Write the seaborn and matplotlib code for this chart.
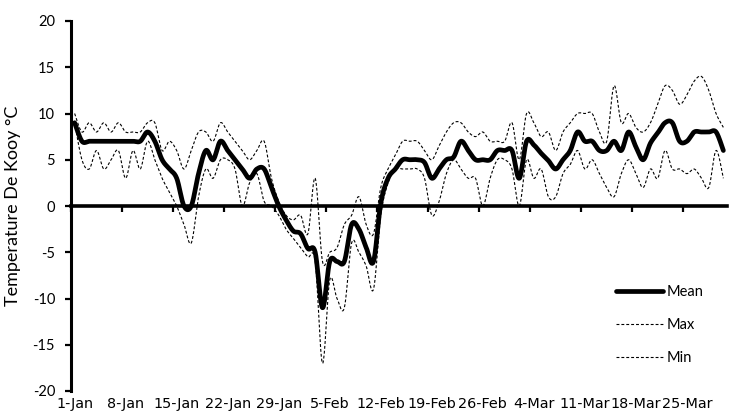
import numpy as np
import pandas as pd
import matplotlib
matplotlib.use("Agg")
import matplotlib.pyplot as plt
import seaborn as sns

# Daily temperatures at De Kooy, 1 Jan - 31 Mar (degrees C)
start_date = "2013-01-01"
n_days = 90

mean_temp = [
    9, 7, 7, 7, 7, 7, 7, 7, 7, 7,
    8, 7, 5, 4, 3, 0, 0, 3.5, 6, 5,
    7, 6, 5, 4, 3, 4, 4, 2, 0, -1.5,
    -2.7, -3, -4.6, -5, -11, -6, -6, -6, -2, -2.5,
    -4.5, -6, 0.3, 3, 4, 5, 5, 5, 4.7, 3,
    4, 5, 5.3, 7, 6, 5, 5, 5, 6, 6,
    6, 3, 7, 6.6, 5.7, 4.9, 4, 5, 6, 8,
    7, 7, 6, 6, 7, 6, 8, 6.4, 5, 6.8,
    7.9, 9, 9, 7, 7, 8, 8, 8, 8, 6,
]
max_temp = [
    10, 8, 9, 8, 9, 8, 9, 8, 8, 8,
    9, 9, 6, 7, 6, 4, 6, 8, 8, 7,
    9, 8, 7, 6, 5, 6, 7, 3, 0.5, -1,
    -1.5, -1, -3, 3, -6, -5, -4.5, -2, -1, 1,
    -2, -3, 2, 4, 5.5, 7, 7, 7, 6, 5,
    6.5, 8, 9, 9, 8, 7.5, 8, 7, 7, 7,
    9, 5, 10, 9, 7.5, 8, 6, 8, 9, 10,
    10, 10, 8, 7, 13, 9, 10, 8.5, 8, 9,
    11, 13, 12.5, 11, 12, 13.5, 14, 12.5, 10, 8.5,
]
min_temp = [
    9, 5, 4, 6, 4, 5, 6, 3, 6, 4,
    7, 5, 3, 1.5, 0, -2, -4, 1, 4, 3,
    5, 5, 4, 0, 2.5, 3.5, 0.5, 0, -1, -2.5,
    -3.5, -4.5, -5.5, -6, -17, -8, -10, -11, -4, -5,
    -6.5, -9, -1, 2.5, 4, 4, 4, 4, 3, -1,
    0.5, 3.5, 5, 4, 3, 3, 0, 3, 5, 5,
    4, 0, 5, 3, 4, 1, 1, 3.5, 4.5, 6,
    4, 5, 3.5, 2, 1, 3.5, 5, 3.5, 2, 4,
    3, 6, 4, 4, 3.5, 4, 3, 2, 6, 3,
]
tick_labels = ["1-Jan", "8-Jan", "15-Jan", "22-Jan", "29-Jan", "5-Feb", "12-Feb",
               "19-Feb", "26-Feb", "4-Mar", "11-Mar", "18-Mar", "25-Mar"]
y_ticks = [-20, -15, -10, -5, 0, 5, 10, 15, 20]

dates = pd.date_range(start_date, periods=n_days, freq="D")
day = (dates - dates[0]).days.to_numpy(dtype=float) + 0.5   # points sit mid-slot


def smooth(x, y, n=20):
    """Bezier smoothing through every point (Catmull-Rom control points)."""
    x = np.asarray(x, float)
    y = np.asarray(y, float)
    px = np.concatenate([[x[0]], x, [x[-1]]])
    py = np.concatenate([[y[0]], y, [y[-1]]])
    t = np.linspace(0, 1, n, endpoint=False)[:, None]
    segs_x, segs_y = [], []
    for i in range(len(x) - 1):
        for p, out in ((px, segs_x), (py, segs_y)):
            p0, p1, p2, p3 = p[i], p[i + 1], p[i + 2], p[i + 3]
            c1 = p1 + (p2 - p0) / 6.0
            c2 = p2 - (p3 - p1) / 6.0
            b = ((1 - t) ** 3 * p1 + 3 * (1 - t) ** 2 * t * c1
                 + 3 * (1 - t) * t ** 2 * c2 + t ** 3 * p2)
            out.append(b.ravel())
    xs = np.concatenate(segs_x + [[x[-1]]])
    ys = np.concatenate(segs_y + [[y[-1]]])
    return xs, ys


sns.set_theme(style="white")
plt.rcParams["font.family"] = ["Lato", "DejaVu Sans"]
plt.rcParams["axes.unicode_minus"] = False

fig = plt.figure(figsize=(7.3, 4.2), dpi=100)
ax = fig.add_axes([71 / 730, 1 - 391 / 420, 656 / 730, 370 / 420])

dash = (0, (2.6, 1.8))
series = [
    ("Mean", mean_temp, dict(color="black", linewidth=3.4, solid_capstyle="round")),
    ("Max", max_temp, dict(color="black", linewidth=0.8, linestyle=dash)),
    ("Min", min_temp, dict(color="black", linewidth=0.8, linestyle=dash)),
]
for name, values, style in series:
    sx, sy = smooth(day, values)
    frame = pd.DataFrame({"day": sx, "temp": sy})
    sns.lineplot(data=frame, x="day", y="temp", ax=ax, label=name,
                 sort=False, estimator=None, **style)

ax.set_xlim(0, n_days)
ax.set_ylim(-20, 20)

# y axis
ax.set_yticks(y_ticks)
ax.set_yticklabels([str(v) for v in y_ticks])
ax.tick_params(axis="y", direction="out", length=4.5, width=1.6, pad=7,
               labelsize=10.5, left=True, colors="black")
ax.set_ylabel("Temperature De Kooy °C", fontsize=13, color="black")
ax.yaxis.set_label_coords(-0.076, 0.5)

# date labels along the bottom edge, one per week slot
week_starts = np.arange(0, n_days - 1, 7)
ax.set_xticks(week_starts + 0.5)
ax.set_xticklabels(tick_labels, family=["DejaVu Sans"], fontsize=10.4)
ax.tick_params(axis="x", length=0, pad=4, colors="black")
ax.set_xlabel("")

for side in ("top", "right", "bottom"):
    ax.spines[side].set_visible(False)
ax.spines["left"].set_linewidth(2.2)
ax.spines["left"].set_color("black")

# horizontal axis line crossing at 0 with weekly tick marks
zero_axis = ax.secondary_xaxis(0.5)
zero_axis.set_alignment("bottom")
zero_axis.set_xticks(week_starts)
zero_axis.set_xticklabels([])
zero_axis.tick_params(axis="x", direction="out", length=4, width=1.6, colors="black")
zero_axis.spines["bottom"].set_linewidth(2.6)
zero_axis.spines["bottom"].set_color("black")

leg = ax.legend(loc="center left", bbox_to_anchor=(616 / 730, 1 - 325 / 420),
                bbox_transform=fig.transFigure, frameon=False, fontsize=10.5,
                handlelength=3.2, handletextpad=0.3, labelspacing=1.3,
                borderpad=0, borderaxespad=0)
for text in leg.get_texts():
    text.set_color("black")

fig.savefig("out.png", dpi=100, facecolor="white")
